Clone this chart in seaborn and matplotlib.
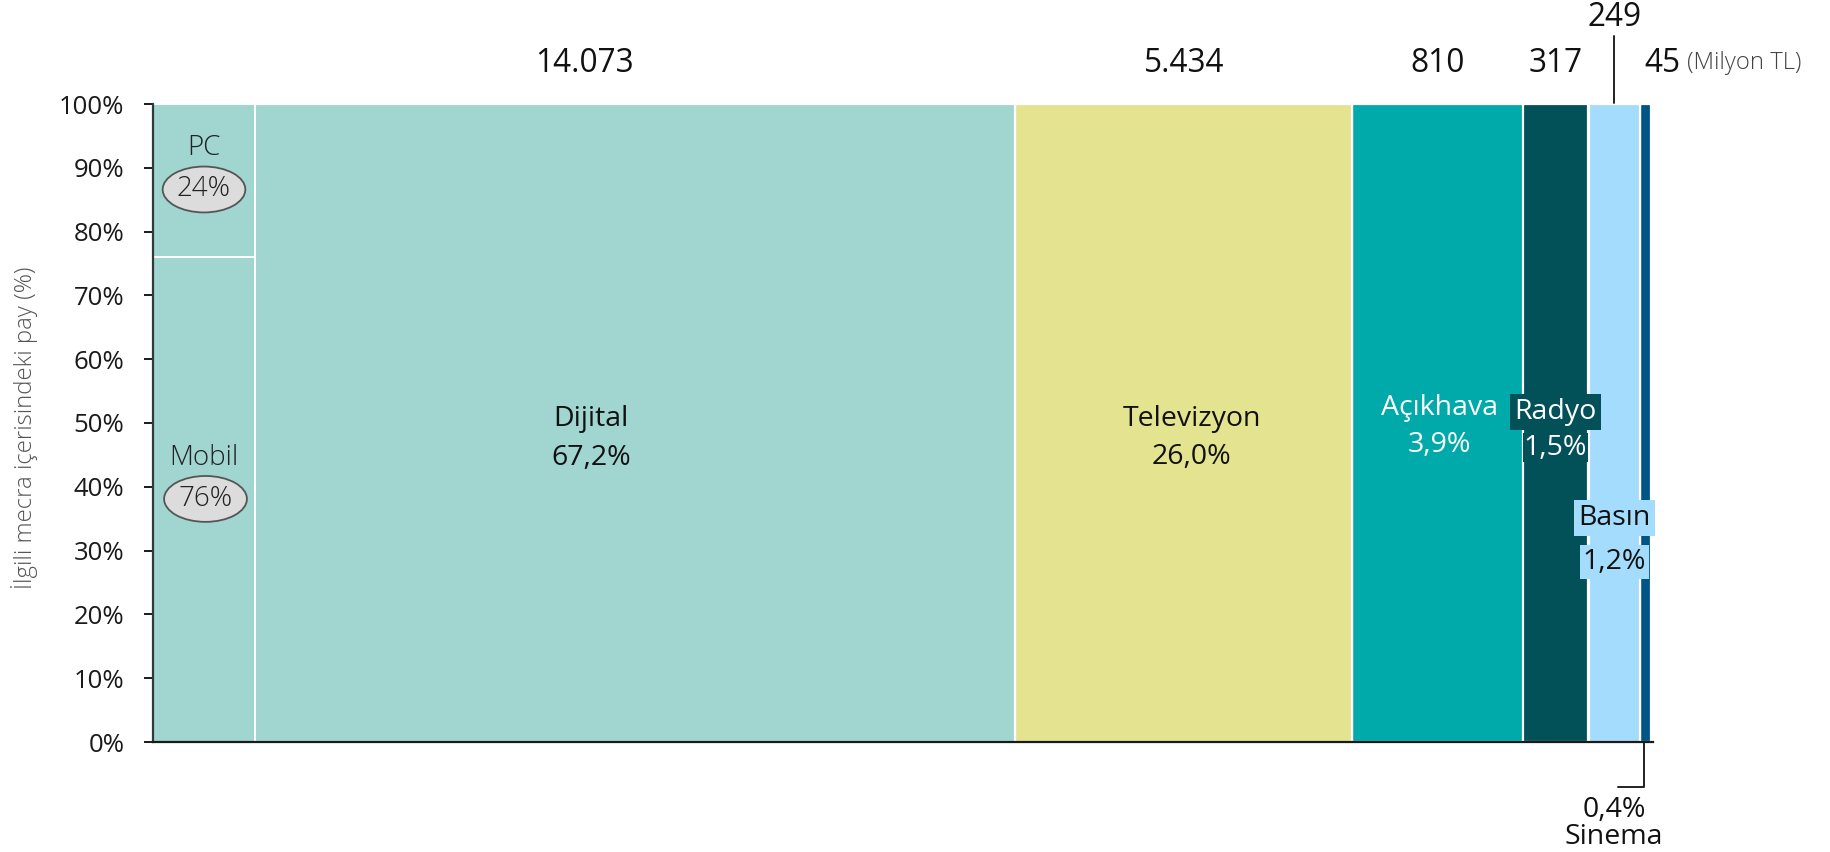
import numpy as np
import pandas as pd
import matplotlib
matplotlib.use("Agg")
import matplotlib.pyplot as plt
import matplotlib.transforms as mtransforms
import seaborn as sns

# ---------------- data ----------------
categories = ["Dijital", "Televizyon", "Açıkhava", "Radyo", "Basın", "Sinema"]
spend_labels = ["14.073", "5.434", "810", "317", "249", "45"]   # Milyon TL
share_labels = ["67,2%", "26,0%", "3,9%", "1,5%", "1,2%", "0,4%"]
# column widths as drawn in the chart (share of the x axis, %)
shown_width = [57.5, 22.45, 11.35, 4.4, 3.45, 0.7]
bar_height = [100, 100, 100, 100, 100, 100]
colors = ["#a0d5d0", "#e4e38f", "#00aaaa", "#025058", "#a3dcfd", "#005587"]
dijital_parts = ["Mobil", "PC"]
dijital_split = [76, 24]
dijital_part_labels = ["76%", "24%"]
strip_width = 6.8
yticks = [0, 10, 20, 30, 40, 50, 60, 70, 80, 90, 100]
ytick_labels = [f"{t}%" for t in yticks]
unit_label = "(Milyon TL)"
y_title = "İlgili mecra içerisindeki pay (%)"

# ---------------- style ----------------
sns.set_theme(style="white")
plt.rcParams["font.family"] = ["Open Sans", "DejaVu Sans"]

fig = plt.figure(figsize=(18.31, 8.52), dpi=100)
ax = fig.add_axes([153 / 1831, 1 - 742 / 852, 1500 / 1831, 638 / 852])

edges = [0.0] + list(np.cumsum(shown_width))
centers = [(edges[i] + edges[i + 1]) / 2 for i in range(len(shown_width))]
df = pd.DataFrame({"x": centers, "h": bar_height, "cat": categories})

sns.histplot(data=df, x="x", weights="h", bins=edges, hue="cat", hue_order=categories,
             palette=dict(zip(categories, colors)), multiple="layer", alpha=1,
             edgecolor="white", linewidth=1.6, legend=False, ax=ax)
for p in list(ax.patches):
    if p.get_height() == 0:
        p.remove()

# Mobil / PC split inside Dijital
bottoms = np.concatenate([[0], np.cumsum(dijital_split)[:-1]])
ax.bar([0] * len(dijital_split), dijital_split, bottom=bottoms, width=strip_width,
       align="edge", color=colors[0], edgecolor="white", linewidth=1.4, zorder=2)

ax.set_xlim(0, 100)
ax.set_ylim(0, 100)
ax.set_xlabel("")
ax.set_ylabel("")
ax.set_xticks([])
ax.set_yticks(yticks)
ax.set_yticklabels(ytick_labels)
ax.tick_params(axis="y", direction="out", length=6.5, width=1.4, pad=14,
               labelsize=18.5, labelcolor="#1a1a1a", color="#1a1a1a", left=True)
for s in ["top", "right"]:
    ax.spines[s].set_visible(False)
ax.spines["left"].set_color("#2d3b3b")
ax.spines["left"].set_linewidth(1.6)
ax.spines["bottom"].set_color("#1a1a1a")
ax.spines["bottom"].set_linewidth(1.6)
for s in ax.spines.values():
    s.set_zorder(5)

fig.text(24 / 1831, 1 - 428 / 852, y_title, rotation=90, ha="center", va="center",
         fontsize=17.2, color="#555555", fontweight="light")

trans = mtransforms.blended_transform_factory(ax.transData, ax.transAxes)

# spend labels above columns
top_fs = 22.8
for i, lab in enumerate(spend_labels):
    if categories[i] == "Basın":
        ax.text(centers[i], 1.135, lab, transform=trans, ha="center", va="center",
                fontsize=top_fs, color="#111111")
        ax.plot([centers[i], centers[i]], [1.002, 1.107], transform=trans,
                color="#222222", lw=1.4, clip_on=False)
    elif categories[i] == "Sinema":
        ax.annotate(lab, xy=(centers[i], 1.064), xycoords=trans, xytext=(17, 0),
                    textcoords="offset pixels", ha="center", va="center",
                    fontsize=top_fs, color="#111111")
        ax.annotate(unit_label, xy=(centers[i], 1.064), xycoords=trans, xytext=(42, 0),
                    textcoords="offset pixels", ha="left", va="center",
                    fontsize=17.2, color="#444444", fontweight="light")
    else:
        ax.text(centers[i], 1.064, lab, transform=trans, ha="center", va="center",
                fontsize=top_fs, color="#111111")

# in-bar labels
lab_fs = 20.5
def bar_label(x, y, s, color, dx=0, **kw):
    ax.annotate(s, xy=(x, y), xycoords="data", xytext=(dx, 0), textcoords="offset pixels",
                ha="center", va="center", fontsize=lab_fs, color=color, **kw)

bar_label(centers[0], 50.6, categories[0], "#111111", dx=7)
bar_label(centers[0], 44.5, share_labels[0], "#111111", dx=7)
bar_label(centers[1], 50.6, categories[1], "#111111", dx=8)
bar_label(centers[1], 44.7, share_labels[1], "#111111", dx=8)
bar_label(centers[2], 52.4, categories[2], "white", dx=2)
bar_label(centers[2], 46.6, share_labels[2], "white", dx=2)
bar_label(centers[3], 51.7, categories[3], "white",
          bbox=dict(boxstyle="square,pad=0.15", fc=colors[3], ec="none"), zorder=6)
bar_label(centers[3], 46.1, share_labels[3], "white",
          bbox=dict(boxstyle="square,pad=0.02", fc=colors[3], ec="none"), zorder=6)
bar_label(centers[4], 35.1, categories[4], "#111111",
          bbox=dict(boxstyle="square,pad=0.15", fc=colors[4], ec="none"), zorder=7)
bar_label(centers[4], 28.2, share_labels[4], "#111111",
          bbox=dict(boxstyle="square,pad=0.1", fc=colors[4], ec="none"), zorder=7)

# Sinema callout below axis
sx = centers[5] - 0.1
ax.plot([sx, sx, sx - 1.75], [0, -0.0705, -0.0705], transform=trans,
        color="#222222", lw=1.4, clip_on=False)
ax.text(sx - 2.0, -0.1066, share_labels[5], transform=trans, ha="center", va="center",
        fontsize=lab_fs, color="#111111")
ax.text(sx - 2.0, -0.149, categories[5], transform=trans, ha="center", va="center",
        fontsize=lab_fs, color="#111111")

# Mobil / PC labels with ellipses
sc = strip_width / 2
ax.text(sc, 93.1, dijital_parts[1], ha="center", va="center", fontsize=20,
        color="#222222", fontweight="light")
ax.text(sc, 86.6, dijital_part_labels[1], ha="center", va="center", fontsize=20,
        color="#222222", fontweight="light",
        bbox=dict(boxstyle="ellipse,pad=0.08", fc="#dcdcdc", ec="#555555", lw=1.3))
ax.text(sc, 44.5, dijital_parts[0], ha="center", va="center", fontsize=20,
        color="#222222", fontweight="light")
ax.text(sc + 0.1, 38.1, dijital_part_labels[0], ha="center", va="center", fontsize=20,
        color="#222222", fontweight="light",
        bbox=dict(boxstyle="ellipse,pad=0.08", fc="#dcdcdc", ec="#555555", lw=1.3))

fig.savefig("out.png", dpi=100)
